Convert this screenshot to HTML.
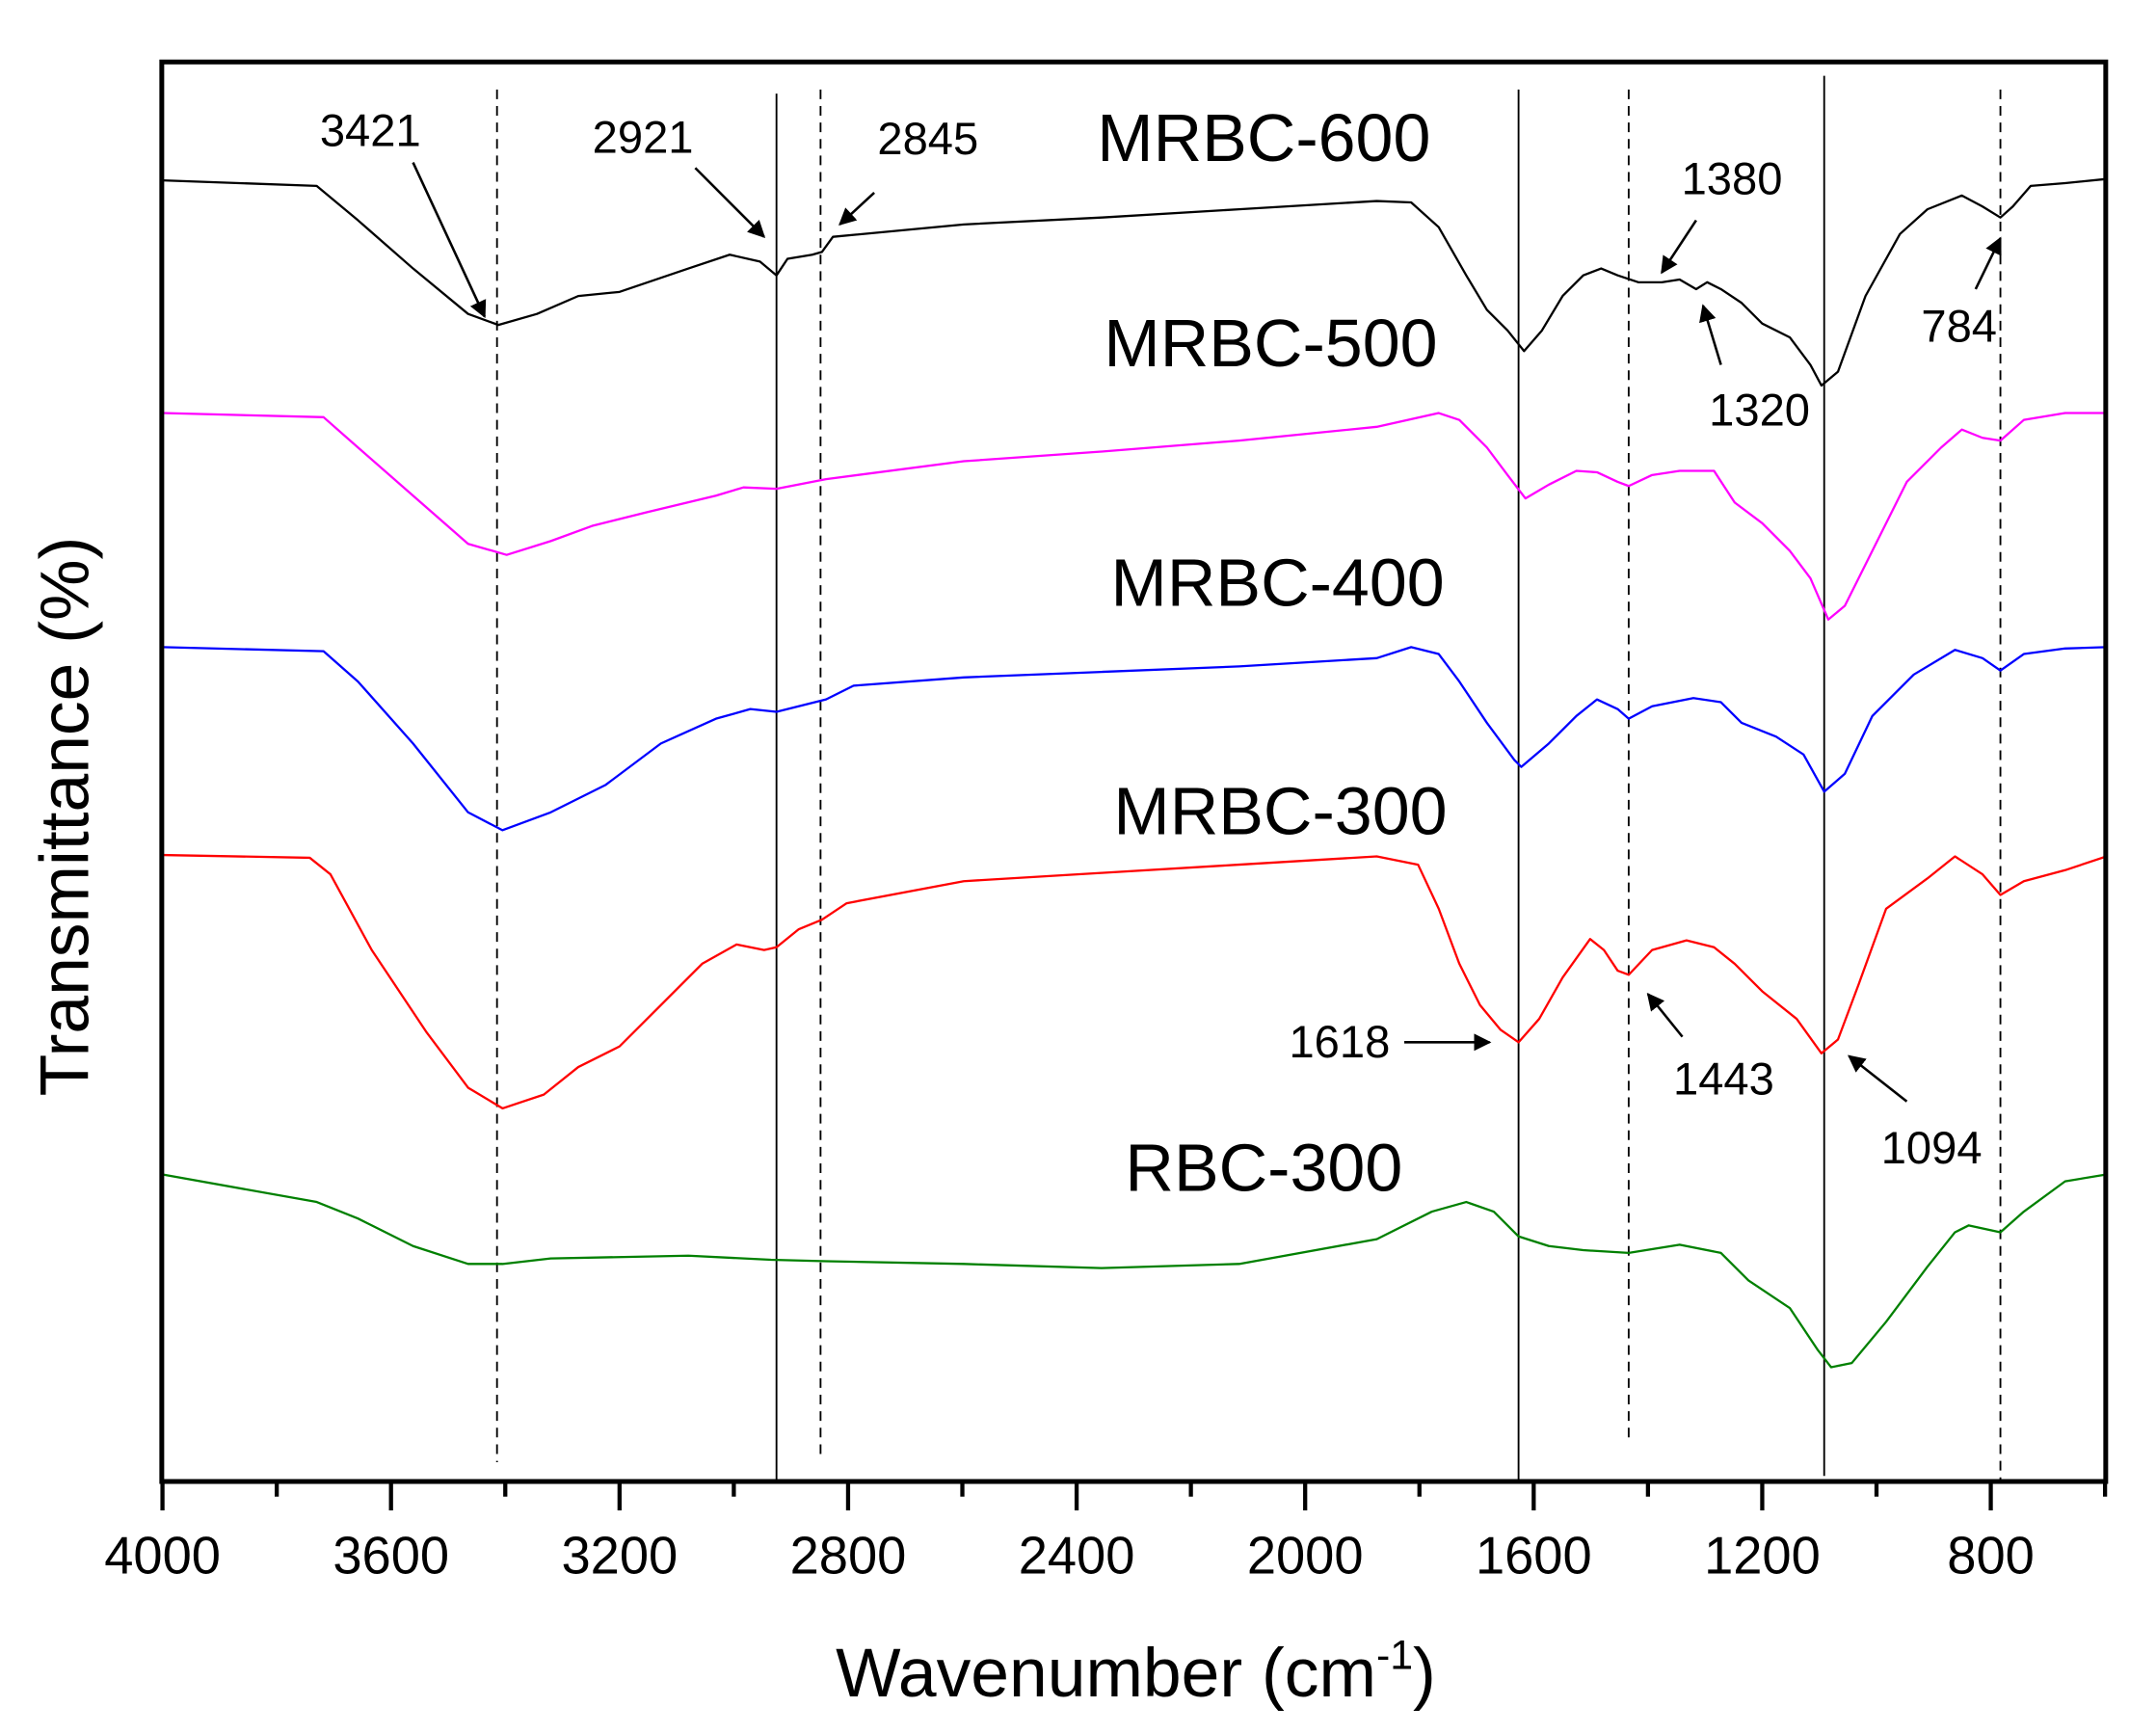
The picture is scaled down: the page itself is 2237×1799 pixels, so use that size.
<!DOCTYPE html>
<html><head><meta charset="utf-8"><style>
html,body{margin:0;padding:0;background:#fff;}
svg{display:block;}
text{font-family:"Liberation Sans",Arial,sans-serif;fill:#000;}
</style></head><body>
<svg width="2237" height="1799" viewBox="0 0 1566 1259.4" xmlns="http://www.w3.org/2000/svg">
<defs><marker id="ah" viewBox="0 0 10 10" refX="9" refY="5" markerWidth="7" markerHeight="7" orient="auto"><path d="M0,0 L10,5 L0,10 z" fill="#000"/></marker></defs>
<rect width="1566" height="1260" fill="#fff"/>
<g stroke="#000" stroke-width="1.3" fill="none">
<line x1="361" y1="65" x2="361" y2="1062" stroke-dasharray="7,5"/>
<line x1="564" y1="68" x2="564" y2="1075"/>
<line x1="596" y1="65" x2="596" y2="1058" stroke-dasharray="7,5"/>
<line x1="1103" y1="65" x2="1103" y2="1075"/>
<line x1="1183" y1="65" x2="1183" y2="1048" stroke-dasharray="7,5"/>
<line x1="1325" y1="55" x2="1325" y2="1072"/>
<line x1="1453" y1="65" x2="1453" y2="1075" stroke-dasharray="7,5"/>
</g>
<g fill="none" stroke-width="1.6" stroke-linejoin="round">
<polyline stroke="#000" points="118,131 230,135 260,160 300,195 340,228 362,236 390,228 420,215 450,212 500,195 530,185 552,190 564,200 572,188 590,185 597,183 605,172 700,163 800,158 900,152 1000,146 1025,147 1045,165 1065,200 1080,225 1095,240 1107,255 1120,240 1135,215 1150,200 1163,195 1175,200 1190,205 1207,205 1220,203 1232,210 1240,205 1250,210 1265,220 1280,235 1300,245 1315,265 1323,280 1335,270 1355,215 1380,170 1400,152 1425,142 1440,150 1453,158 1462,150 1475,135 1500,133 1530,130"/>
<polyline stroke="#ff00ff" points="118,300 235,303 260,325 300,360 340,395 368,403 400,393 430,382 470,372 520,360 540,354 564,355 600,348 700,335 800,328 900,320 1000,310 1045,300 1060,305 1080,325 1095,345 1108,362 1125,352 1145,342 1160,343 1175,350 1183,353 1200,345 1220,342 1245,342 1260,365 1280,380 1300,400 1315,420 1328,450 1340,440 1360,400 1385,350 1410,325 1425,312 1440,318 1453,320 1470,305 1500,300 1530,300"/>
<polyline stroke="#0000ff" points="118,470 235,473 260,495 300,540 340,590 365,603 400,590 440,570 480,540 520,522 545,515 564,517 600,508 620,498 700,492 800,488 900,484 1000,478 1025,470 1045,475 1060,495 1080,525 1100,552 1105,557 1125,540 1145,520 1160,508 1175,515 1183,522 1200,513 1230,507 1250,510 1265,525 1290,535 1310,548 1325,575 1340,562 1360,520 1390,490 1420,472 1440,478 1453,487 1470,475 1500,471 1530,470"/>
<polyline stroke="#ff0000" points="118,621 225,623 240,635 270,690 310,750 340,790 365,805 395,795 420,775 450,760 480,730 510,700 535,686 555,690 564,688 580,675 597,668 615,656 700,640 800,634 900,628 1000,622 1030,628 1045,660 1060,700 1075,730 1090,748 1103,757 1118,740 1135,710 1155,682 1165,690 1175,705 1183,708 1200,690 1225,683 1245,688 1260,700 1280,720 1305,740 1323,765 1335,755 1350,715 1370,660 1400,638 1420,622 1440,635 1453,650 1470,640 1500,632 1530,622"/>
<polyline stroke="#008000" points="118,853 230,873 260,885 300,905 340,918 365,918 400,914 500,912 560,915 600,916 700,918 800,921 900,918 1000,900 1040,880 1065,873 1085,880 1103,898 1125,905 1150,908 1183,910 1220,904 1250,910 1270,930 1300,950 1320,980 1330,993 1345,990 1370,960 1400,920 1420,895 1430,890 1453,895 1470,880 1500,858 1530,853"/>
</g>
<rect x="117.5" y="45" width="1412" height="1031" fill="none" stroke="#000" stroke-width="3.5"/>
<g stroke="#000" stroke-width="3">
<line x1="118" y1="1076" x2="118" y2="1097"/><line x1="284" y1="1076" x2="284" y2="1097"/><line x1="450" y1="1076" x2="450" y2="1097"/><line x1="616" y1="1076" x2="616" y2="1097"/><line x1="782" y1="1076" x2="782" y2="1097"/><line x1="948" y1="1076" x2="948" y2="1097"/><line x1="1114" y1="1076" x2="1114" y2="1097"/><line x1="1280" y1="1076" x2="1280" y2="1097"/><line x1="1446" y1="1076" x2="1446" y2="1097"/>
<line x1="201" y1="1076" x2="201" y2="1087"/><line x1="367" y1="1076" x2="367" y2="1087"/><line x1="533" y1="1076" x2="533" y2="1087"/><line x1="699" y1="1076" x2="699" y2="1087"/><line x1="865" y1="1076" x2="865" y2="1087"/><line x1="1031" y1="1076" x2="1031" y2="1087"/><line x1="1197" y1="1076" x2="1197" y2="1087"/><line x1="1363" y1="1076" x2="1363" y2="1087"/><line x1="1529" y1="1076" x2="1529" y2="1087"/>
</g>
<g font-size="38" text-anchor="middle">
<text x="118" y="1143">4000</text><text x="284" y="1143">3600</text><text x="450" y="1143">3200</text><text x="616" y="1143">2800</text><text x="782" y="1143">2400</text><text x="948" y="1143">2000</text><text x="1114" y="1143">1600</text><text x="1280" y="1143">1200</text><text x="1446" y="1143">800</text>
</g>
<text x="825" y="1232" font-size="50" text-anchor="middle">Wavenumber (cm<tspan dy="-20" font-size="30">-1</tspan><tspan dy="20">)</tspan></text>
<text transform="translate(64,593) rotate(-90)" font-size="50" text-anchor="middle">Transmittance (%)</text>
<g font-size="49" text-anchor="middle">
<text x="918" y="117">MRBC-600</text>
<text x="923" y="266">MRBC-500</text>
<text x="928" y="440">MRBC-400</text>
<text x="930" y="606">MRBC-300</text>
<text x="918" y="865">RBC-300</text>
</g>
<g font-size="33" text-anchor="middle">
<text x="269" y="106">3421</text><text x="467" y="111">2921</text><text x="674" y="112">2845</text>
<text x="1258" y="141">1380</text><text x="1278" y="309">1320</text><text x="1423" y="248">784</text>
<text x="973" y="768">1618</text><text x="1252" y="795">1443</text><text x="1403" y="845">1094</text>
</g>
<g stroke="#000" stroke-width="1.8" marker-end="url(#ah)">
<line x1="300" y1="118" x2="352" y2="230"/>
<line x1="505" y1="122" x2="555" y2="172"/>
<line x1="635" y1="140" x2="610" y2="163"/>
<line x1="1232" y1="160" x2="1207" y2="198"/>
<line x1="1250" y1="265" x2="1237" y2="222"/>
<line x1="1435" y1="210" x2="1453" y2="173"/>
<line x1="1020" y1="757" x2="1082" y2="757"/>
<line x1="1222" y1="753" x2="1197" y2="722"/>
<line x1="1385" y1="800" x2="1343" y2="767"/>
</g>
</svg>
</body></html>
